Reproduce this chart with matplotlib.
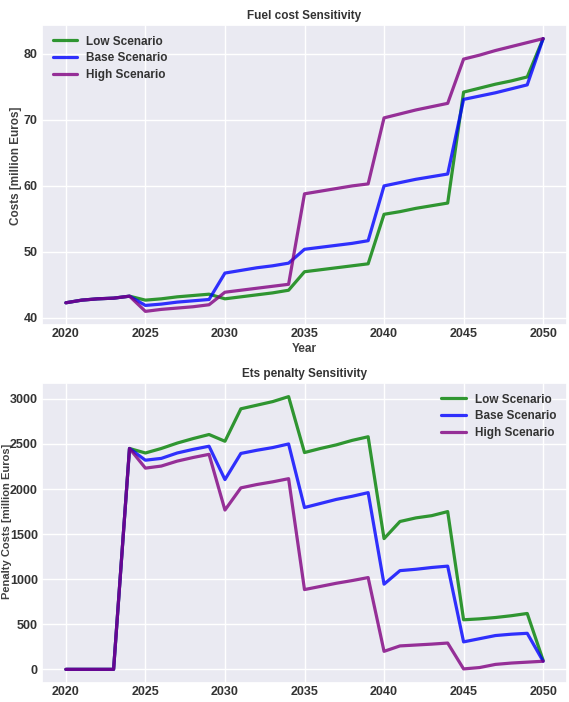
import numpy as np
import matplotlib
matplotlib.use('Agg')
import matplotlib.pyplot as plt
import seaborn as sns

#%% data
years = list(range(2020, 2051))
scenarios = ['Low Scenario', 'Base Scenario', 'High Scenario']
colors = ['green', 'blue', 'purple']

# fuel cost [million Euros]
fuel_low = [42.3, 42.7, 42.9, 43.0, 43.3, 42.7, 42.9, 43.2, 43.4, 43.6,
            42.9, 43.2, 43.5, 43.8, 44.2, 47.0, 47.3, 47.6, 47.9, 48.2,
            55.7, 56.1, 56.6, 57.0, 57.4, 74.2, 74.8, 75.4, 75.9, 76.5, 82.3]
fuel_base = [42.3, 42.7, 42.9, 43.0, 43.3, 41.9, 42.1, 42.4, 42.6, 42.8,
             46.8, 47.2, 47.6, 47.9, 48.3, 50.4, 50.7, 51.0, 51.3, 51.7,
             60.0, 60.5, 61.0, 61.4, 61.8, 73.1, 73.6, 74.1, 74.7, 75.3, 82.3]
fuel_high = [42.3, 42.7, 42.9, 43.0, 43.3, 41.0, 41.3, 41.5, 41.7, 42.0,
             43.9, 44.2, 44.5, 44.8, 45.1, 58.8, 59.2, 59.6, 60.0, 60.3,
             70.3, 70.9, 71.5, 72.0, 72.5, 79.2, 79.8, 80.5, 81.1, 81.7, 82.3]

# ETS penalty [million Euros]
ets_low = [0, 0, 0, 0, 2450, 2400, 2450, 2510, 2560, 2605,
           2530, 2890, 2930, 2970, 3025, 2405, 2450, 2490, 2540, 2580,
           1450, 1640, 1680, 1705, 1750, 550, 560, 575, 595, 620, 100]
ets_base = [0, 0, 0, 0, 2450, 2320, 2340, 2400, 2440, 2475,
            2105, 2395, 2430, 2460, 2500, 1795, 1840, 1885, 1920, 1960,
            945, 1095, 1110, 1130, 1145, 305, 340, 375, 390, 400, 90]
ets_high = [0, 0, 0, 0, 2450, 2232, 2255, 2310, 2350, 2385,
            1767, 2013, 2050, 2080, 2115, 885, 920, 955, 985, 1018,
            200, 260, 270, 280, 292, 5, 20, 55, 70, 80, 90]

#%% plot
sns.set_theme(style='darkgrid')
plt.rcParams.update({
    'font.family': ['Liberation Sans', 'DejaVu Sans'],
    'font.weight': 'bold',
    'axes.labelweight': 'bold',
    'axes.titleweight': 'bold',
    'font.size': 9,
    'axes.titlesize': 8.5,
    'axes.labelsize': 8.5,
    'xtick.labelsize': 9,
    'ytick.labelsize': 9,
    'legend.fontsize': 8.5,
    'xtick.major.size': 0,
    'ytick.major.size': 0,
    'xtick.major.pad': 2,
    'ytick.major.pad': 3,
    'text.color': '.2',
    'axes.labelcolor': '.25',
    'xtick.color': '.2',
    'ytick.color': '.2',
})

fig = plt.figure(figsize=(5.69, 7.02), dpi=100)
ax1 = fig.add_axes([42 / 569, 1 - 325 / 702, 525 / 569, 300 / 702])
ax2 = fig.add_axes([42 / 569, 1 - 683 / 702, 525 / 569, 300 / 702])

for vals, lab, c in zip([fuel_low, fuel_base, fuel_high], scenarios, colors):
    ax1.plot(years, vals, color=c, lw=2.3, alpha=0.8, label=lab)
ax1.set_title('Fuel cost Sensitivity', pad=4)
ax1.set_xlabel('Year', labelpad=2)
ax1.set_ylabel('Costs [million Euros]')
ax1.yaxis.set_label_coords(-0.038, 0.53)
ax1.set_xticks(range(2020, 2051, 5))
ax1.set_yticks([40, 50, 60, 70, 80])
ax1.legend(loc='upper left', frameon=False, handlelength=2.1,
           handletextpad=0.75, labelspacing=0.4)

for vals, lab, c in zip([ets_low, ets_base, ets_high], scenarios, colors):
    ax2.plot(years, vals, color=c, lw=2.3, alpha=0.8, label=lab)
ax2.set_title('Ets penalty Sensitivity', pad=4)
ax2.set_ylabel('Penalty Costs [million Euros]', fontsize=8)
ax2.yaxis.set_label_coords(-0.057, 0.54)
ax2.set_xticks(range(2020, 2051, 5))
ax2.legend(loc='upper right', frameon=False, handlelength=2.1,
           handletextpad=0.75, labelspacing=0.4)

fig.savefig('out.png', dpi=100)
